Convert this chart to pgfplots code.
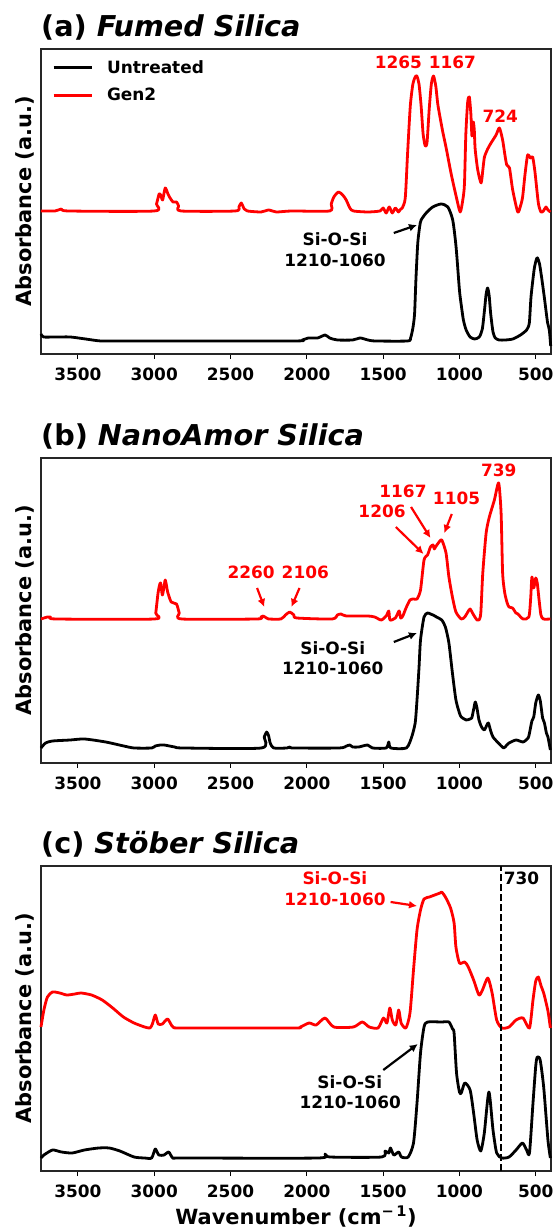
\documentclass[border=0pt]{standalone}
\usepackage{fontspec}
\setmainfont{DejaVu Sans}
\usepackage{pgfplots}
\pgfplotsset{compat=1.18}
\usetikzlibrary{arrows.meta}
\newcommand\fs[1]{\fontsize{#1}{#1}\selectfont\bfseries}
\tikzset{
  ann/.style={font=\fs{17}, inner sep=0pt, anchor=base},
  arr/.style={-{Latex[length=8bp,width=8bp]}, line width=2.2bp},
}
\pgfplotsset{
  spec/.style={
    scale only axis, width=510bp, height=305bp, anchor=south west,
    x dir=reverse, xmin=400, xmax=3742, ymin=0, ymax=305,
    xtick={500,1000,1500,2000,2500,3000,3500},
    xticklabels={500,1000,1500,2000,2500,3000,3500},
    ytick=\empty, xtick pos=left, tick align=outside,
    major tick length=5bp,
    every tick/.style={black, line width=1.1bp},
    axis line style={black!85, line width=1.1bp},
    xticklabel style={font=\fs{17}, inner sep=0pt, yshift=-9bp},
    clip=false,
    every axis plot/.append style={line width=2.8bp, line join=round, smooth, tension=0.4},
  },
}
\begin{document}
\begin{tikzpicture}
\useasboundingbox (0,0) rectangle (555bp,1228bp);
% ---------------- (a)
\begin{axis}[spec, at={(41bp,874bp)},
  legend style={draw=none, fill=none, at={(0.0216,0.964)}, anchor=north west,
    inner sep=0pt, nodes={inner sep=0pt}, row sep=13.6bp, font=\fs{17}},
  legend cell align=left,
  legend image code/.code={\draw[#1, line width=2.8bp] (0bp,0bp) -- (38bp,0bp); \path (52bp,0bp);}]
\addplot[black] coordinates {(3742,20)(3725,17)(3650,17)(3550,17)(3450,15)(3350,13)(3200,13)(2100,13)(2030,14)(1990,16)(1930,16)(1880,19)(1850,16)(1800,14)(1700,14)(1650,16)(1600,14)(1550,13)(1340,13)(1320,16)(1305,26)(1294,40)(1285,75)(1273,111)(1260,128)(1251,134)(1218,141)(1175,147)(1120,150)(1076,147)(1044,134)(1022,107)(1000,64)(989,50)(974,34)(956,24)(930,17)(900,15)(870,17)(850,25)(835,45)(825,60)(815,66)(805,58)(795,40)(780,22)(765,16)(740,14)(700,14)(650,15)(600,19)(560,24)(542,31)(531,57)(510,85)(495,95)(488,96)(475,90)(460,75)(444,57)(430,40)(422,31)(411,24)(402,8)};
\addlegendentry{Untreated}
\addplot[red] coordinates {(3742,143)(3650,143)(3608,145)(3560,143)(3000,143)(2985,150)(2968,160)(2958,159)(2945,154)(2928,166)(2910,160)(2900,157)(2877,152)(2854,152)(2840,148)(2825,143)(2470,143)(2445,147)(2430,151)(2410,145)(2390,143)(2300,142)(2250,144)(2200,142)(2100,143)(1850,143)(1840,150)(1823,157)(1793,162)(1765,159)(1742,154)(1718,146)(1695,143)(1600,142)(1520,143)(1500,146)(1480,141)(1460,147)(1440,141)(1420,146)(1400,142)(1390,144)(1375,146)(1355,156)(1340,200)(1322,248)(1305,270)(1290,277)(1279,278)(1265,270)(1251,248)(1238,220)(1224,208)(1212,212)(1198,245)(1184,270)(1170,278)(1155,268)(1142,250)(1125,235)(1109,222)(1087,206)(1054,180)(1022,158)(995,142)(977,155)(967,170)(958,220)(946,252)(935,257)(925,240)(918,218)(910,232)(903,225)(897,205)(880,184)(858,171)(846,185)(836,197)(815,205)(793,211)(760,219)(738,226)(717,214)(703,200)(690,189)(672,186)(651,164)(618,142)(600,148)(586,157)(570,180)(553,199)(535,196)(520,197)(505,182)(483,151)(466,142)(450,143)(433,147)(420,144)(404,142)};
\addlegendentry{Gen2}
\node[anchor=base west, inner sep=0pt, font=\fs{28.8}] at ([yshift=12bp]axis description cs:0,1) {(a) {\itshape Fumed Silica}};
\node[rotate=90, anchor=south, inner sep=0pt, font=\fs{21}] at ([xshift=-6.5bp]axis description cs:0,0.5) {Absorbance (a.u.)};
\node[ann, red] at (axis cs:1400,285) {1265};
\node[ann, red] at (axis cs:1046,285) {1167};
\node[ann, red] at (axis cs:732,231) {724};
\node[ann] at (axis cs:1815,108) {Si-O-Si};
\node[ann] at (axis cs:1815,87) {1210-1060};
\draw[arr] (axis cs:1430,121) -- (axis cs:1278,129);
\end{axis}
% ---------------- (b)
\begin{axis}[spec, at={(41bp,465bp)}]
\addplot[black] coordinates {(3742,15)(3712,20)(3666,22)(3550,23)(3457,24)(3318,21)(3200,17)(3132,15)(3017,15)(2993,17)(2960,18)(2935,18)(2866,16)(2808,15)(2298,15)(2279,26)(2263,31)(2250,27)(2240,20)(2217,15)(2130,15)(2112,16)(2090,15)(1788,15)(1740,17)(1718,18)(1700,16)(1660,16)(1602,18)(1570,15)(1480,15)(1463,21)(1450,15)(1348,15)(1313,26)(1290,40)(1278,63)(1265,95)(1255,123)(1232,146)(1209,150)(1190,149)(1173,148)(1150,146)(1116,143)(1092,136)(1069,120)(1046,90)(1023,63)(1000,50)(988,46)(956,43)(930,44)(919,45)(905,55)(896,61)(885,55)(872,43)(855,36)(837,33)(820,38)(810,40)(795,32)(780,26)(745,20)(710,15)(690,18)(675,20)(629,23)(583,21)(550,25)(541,30)(525,42)(513,46)(500,60)(483,68)(470,62)(455,45)(443,40)(430,30)(420,26)(404,13)};
\addplot[red] coordinates {(3742,144)(3700,146)(3680,146)(3640,144)(3000,144)(2990,150)(2975,170)(2965,178)(2958,180)(2947,168)(2937,175)(2928,183)(2918,176)(2912,171)(2889,161)(2854,159)(2836,150)(2819,144)(2330,144)(2300,146)(2286,147)(2265,145)(2251,144)(2170,144)(2140,148)(2112,151)(2085,148)(2066,145)(1834,144)(1800,148)(1776,149)(1742,147)(1600,147)(1556,146)(1530,144)(1510,143)(1480,147)(1463,152)(1455,143)(1420,145)(1400,151)(1394,152)(1385,145)(1371,147)(1350,155)(1324,163)(1300,164)(1278,164)(1255,173)(1232,203)(1209,208)(1190,216)(1173,218)(1165,214)(1157,216)(1138,220)(1116,223)(1088,210)(1069,186)(1046,166)(1023,151)(988,144)(965,146)(945,151)(930,154)(907,148)(885,143)(872,143)(860,150)(847,190)(825,230)(804,246)(771,263)(743,280)(727,250)(717,190)(703,170)(687,160)(675,156)(652,155)(630,150)(617,149)(583,144)(545,146)(533,165)(525,186)(513,175)(500,185)(490,180)(478,163)(466,148)(450,144)(404,144)};
\node[anchor=base west, inner sep=0pt, font=\fs{28.8}] at ([yshift=12bp]axis description cs:0,1) {(b) {\itshape NanoAmor Silica}};
\node[rotate=90, anchor=south, inner sep=0pt, font=\fs{21}] at ([xshift=-6.5bp]axis description cs:0,0.5) {Absorbance (a.u.)};
\node[ann, red] at (axis cs:742,286) {739};
\node[ann, red] at (axis cs:1019,258) {1105};
\node[ann, red] at (axis cs:1370,265) {1167};
\node[ann, red] at (axis cs:1507,245) {1206};
\node[ann, red] at (axis cs:2365,184) {2260};
\node[ann, red] at (axis cs:2010,184) {2106};
\draw[arr, red] (axis cs:1050,249) -- (axis cs:1099,230);
\draw[arr, red] (axis cs:1317,256) -- (axis cs:1190,225);
\draw[arr, red] (axis cs:1417,236) -- (axis cs:1235,209);
\draw[arr, red] (axis cs:2326,175) -- (axis cs:2279,156);
\draw[arr, red] (axis cs:2048,175) -- (axis cs:2101,156);
\node[ann] at (axis cs:1830,108) {Si-O-Si};
\node[ann] at (axis cs:1830,88) {1210-1060};
\draw[arr] (axis cs:1430,121) -- (axis cs:1278,130);
\end{axis}
% ---------------- (c)
\begin{axis}[spec, at={(41bp,57bp)}]
\addplot[black] coordinates {(3742,13)(3723,16)(3666,21)(3608,19)(3538,18)(3457,21)(3364,23)(3295,23)(3225,20)(3132,14)(3063,13)(3017,13)(2993,22)(2970,16)(2935,16)(2905,19)(2877,13)(2808,13)(1927,13)(1881,17)(1850,14)(1510,14)(1487,20)(1463,18)(1452,23)(1430,16)(1398,19)(1380,14)(1336,14)(1301,28)(1278,68)(1255,118)(1232,144)(1209,149)(1116,149)(1069,149)(1045,142)(1035,138)(1019,98)(1000,79)(988,78)(965,88)(930,81)(907,58)(884,31)(860,20)(837,38)(807,79)(780,41)(756,18)(722,13)(675,14)(629,21)(587,28)(560,21)(541,18)(518,68)(500,105)(490,114)(471,111)(448,84)(420,31)(404,13)};
\addplot[red] coordinates {(3742,144)(3723,161)(3700,174)(3666,179)(3619,178)(3573,176)(3520,177)(3480,178)(3411,176)(3341,171)(3272,163)(3202,154)(3132,148)(3063,144)(3028,143)(3012,147)(2993,156)(2974,147)(2947,147)(2912,152)(2877,144)(2808,143)(2089,143)(2043,144)(1985,148)(1939,146)(1881,153)(1823,144)(1695,144)(1637,149)(1591,144)(1533,143)(1498,153)(1475,148)(1456,163)(1440,151)(1417,146)(1398,161)(1382,148)(1351,143)(1324,158)(1301,201)(1278,241)(1255,261)(1232,272)(1197,274)(1162,276)(1127,278)(1116,279)(1092,274)(1058,263)(1035,248)(1023,224)(1000,208)(965,209)(942,204)(907,191)(872,176)(849,181)(814,193)(786,178)(756,151)(722,143)(675,144)(629,151)(583,153)(541,143)(518,171)(500,190)(483,194)(465,185)(448,178)(420,160)(404,143)};
\addplot[black, dash pattern=on 7bp off 3bp, line width=2bp, sharp plot] coordinates {(730,0)(730,305)};
\node[anchor=base west, inner sep=0pt, font=\fs{28.8}] at ([yshift=12bp]axis description cs:0,1) {(c) {\itshape Stöber Silica}};
\node[rotate=90, anchor=south, inner sep=0pt, font=\fs{21}] at ([xshift=-6.5bp]axis description cs:0,0.5) {Absorbance (a.u.)};
\node[anchor=base, inner sep=0pt, font=\fs{21}] at ([yshift=-53bp]axis description cs:0.5,0) {Wavenumber (cm\textsuperscript{−\,1})};
\node[ann, anchor=base west, xshift=3bp] at (axis cs:730,286) {730};
\node[ann, red] at (axis cs:1816,286) {Si-O-Si};
\node[ann, red] at (axis cs:1816,265) {1210-1060};
\draw[arr, red] (axis cs:1451,269) -- (axis cs:1278,265);
\node[ann] at (axis cs:1718,82) {Si-O-Si};
\node[ann] at (axis cs:1716,62) {1210-1060};
\draw[arr] (axis cs:1499,101) -- (axis cs:1273,127);
\end{axis}
\end{tikzpicture}
\end{document}
